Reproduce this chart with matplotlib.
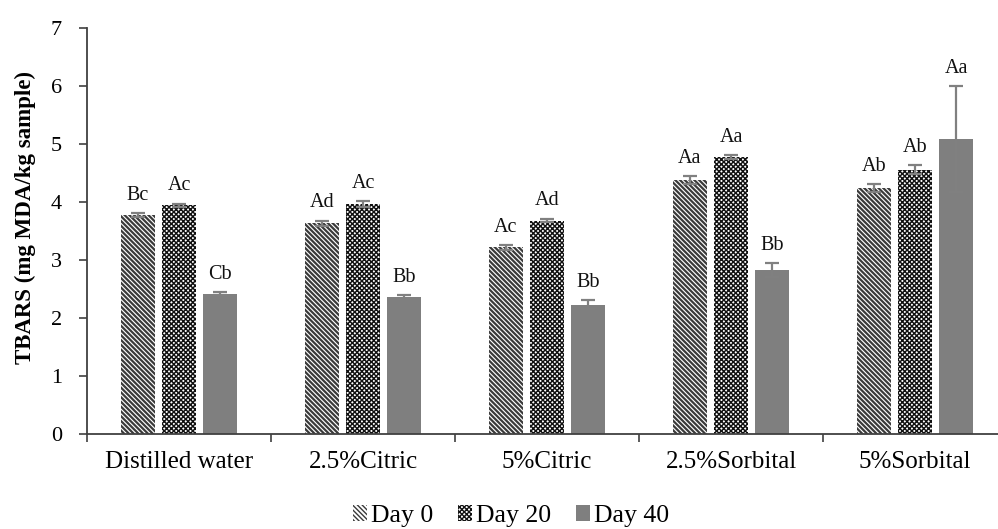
import matplotlib
matplotlib.use("Agg")
import matplotlib.pyplot as plt
import numpy as np

categories = ["Distilled water", "2.5%Citric", "5%Citric", "2.5%Sorbital", "5%Sorbital"]
series_names = ["Day 0", "Day 20", "Day 40"]
day0 = [3.78, 3.63, 3.22, 4.38, 4.24]
day20 = [3.94, 3.97, 3.68, 4.78, 4.56]
day40 = [2.42, 2.36, 2.23, 2.82, 5.09]
err0 = [0.03, 0.05, 0.04, 0.07, 0.07]
err20 = [0.03, 0.05, 0.03, 0.03, 0.08]
err40 = [0.03, 0.03, 0.08, 0.12, 0.91]
letters0 = ["Bc", "Ad", "Ac", "Aa", "Ab"]
letters20 = ["Ac", "Ac", "Ad", "Aa", "Ab"]
letters40 = ["Cb", "Bb", "Bb", "Bb", "Aa"]
yticks = [0, 1, 2, 3, 4, 5, 6, 7]

plt.rcParams['font.family'] = ['Liberation Serif', 'DejaVu Serif']

fig = plt.figure(figsize=(9.98, 5.29), dpi=100)
ax = fig.add_axes([87/998, 95/529, 920/998, 406/529])

x = np.arange(len(categories)) + 0.5
w = 0.182
step = 0.223
styles = [
    dict(facecolor="white", edgecolor="#3a3a3a", hatch="\\" * 7, linewidth=0),
    dict(facecolor="white", edgecolor="#111111", hatch="x" * 7, linewidth=0),
    dict(facecolor="#7f7f7f", edgecolor="#7f7f7f", hatch=None, linewidth=0),
]
hatch_lw = [1.6, 1.05, 1.0]
data = [(day0, err0, letters0), (day20, err20, letters20), (day40, err40, letters40)]
handles = []
for i, ((vals, errs, labs), st) in enumerate(zip(data, styles)):
    plt.rcParams['hatch.linewidth'] = hatch_lw[i]
    pos = x + (i - 1) * step
    b = ax.bar(pos, vals, width=w, label=series_names[i], zorder=2, **st)
    handles.append(b)
    ax.errorbar(pos, vals, yerr=errs, fmt="none", ecolor="#808080", elinewidth=1.6,
                capsize=5, capthick=1.6, zorder=3)
    for px, v, e, t in zip(pos, vals, errs, labs):
        ax.annotate(t, (px, v + e), xytext=(0, 6), textcoords="offset points",
                    ha="center", va="bottom", fontsize=14.5, color="#111111")

ax.set_xlim(0, 5)
ax.set_ylim(0, 7)
ax.set_yticks(yticks)
ax.set_yticklabels([str(t) for t in yticks], fontsize=16)
ax.set_xticks(x)
ax.set_xticklabels(categories, fontsize=18)
ax.set_xticks(np.arange(0, 6), minor=True)
ax.tick_params(axis="x", which="major", length=0, pad=12)
ax.tick_params(axis="x", which="minor", length=6, width=1.2, color="#404040", direction="out")
ax.tick_params(axis="y", length=6, width=1.2, color="#404040", direction="out", pad=12)
for s in ["top", "right"]:
    ax.spines[s].set_visible(False)
for s in ["left", "bottom"]:
    ax.spines[s].set_color("#404040")
    ax.spines[s].set_linewidth(1.3)

fig.text(25/998, 1 - 218/529, "TBARS (mg MDA/kg sample)", rotation=90,
         ha="center", va="center", fontsize=16.5, fontweight="bold")

fig.legend(handles=handles, labels=series_names, loc="center",
           bbox_to_anchor=(511/998, 1 - 516/529), ncol=3, frameon=False,
           fontsize=18.5, handlelength=0.55, handleheight=0.55, handletextpad=0.15,
           columnspacing=0.95, borderpad=0.1)

fig.savefig("out.png", dpi=100)
